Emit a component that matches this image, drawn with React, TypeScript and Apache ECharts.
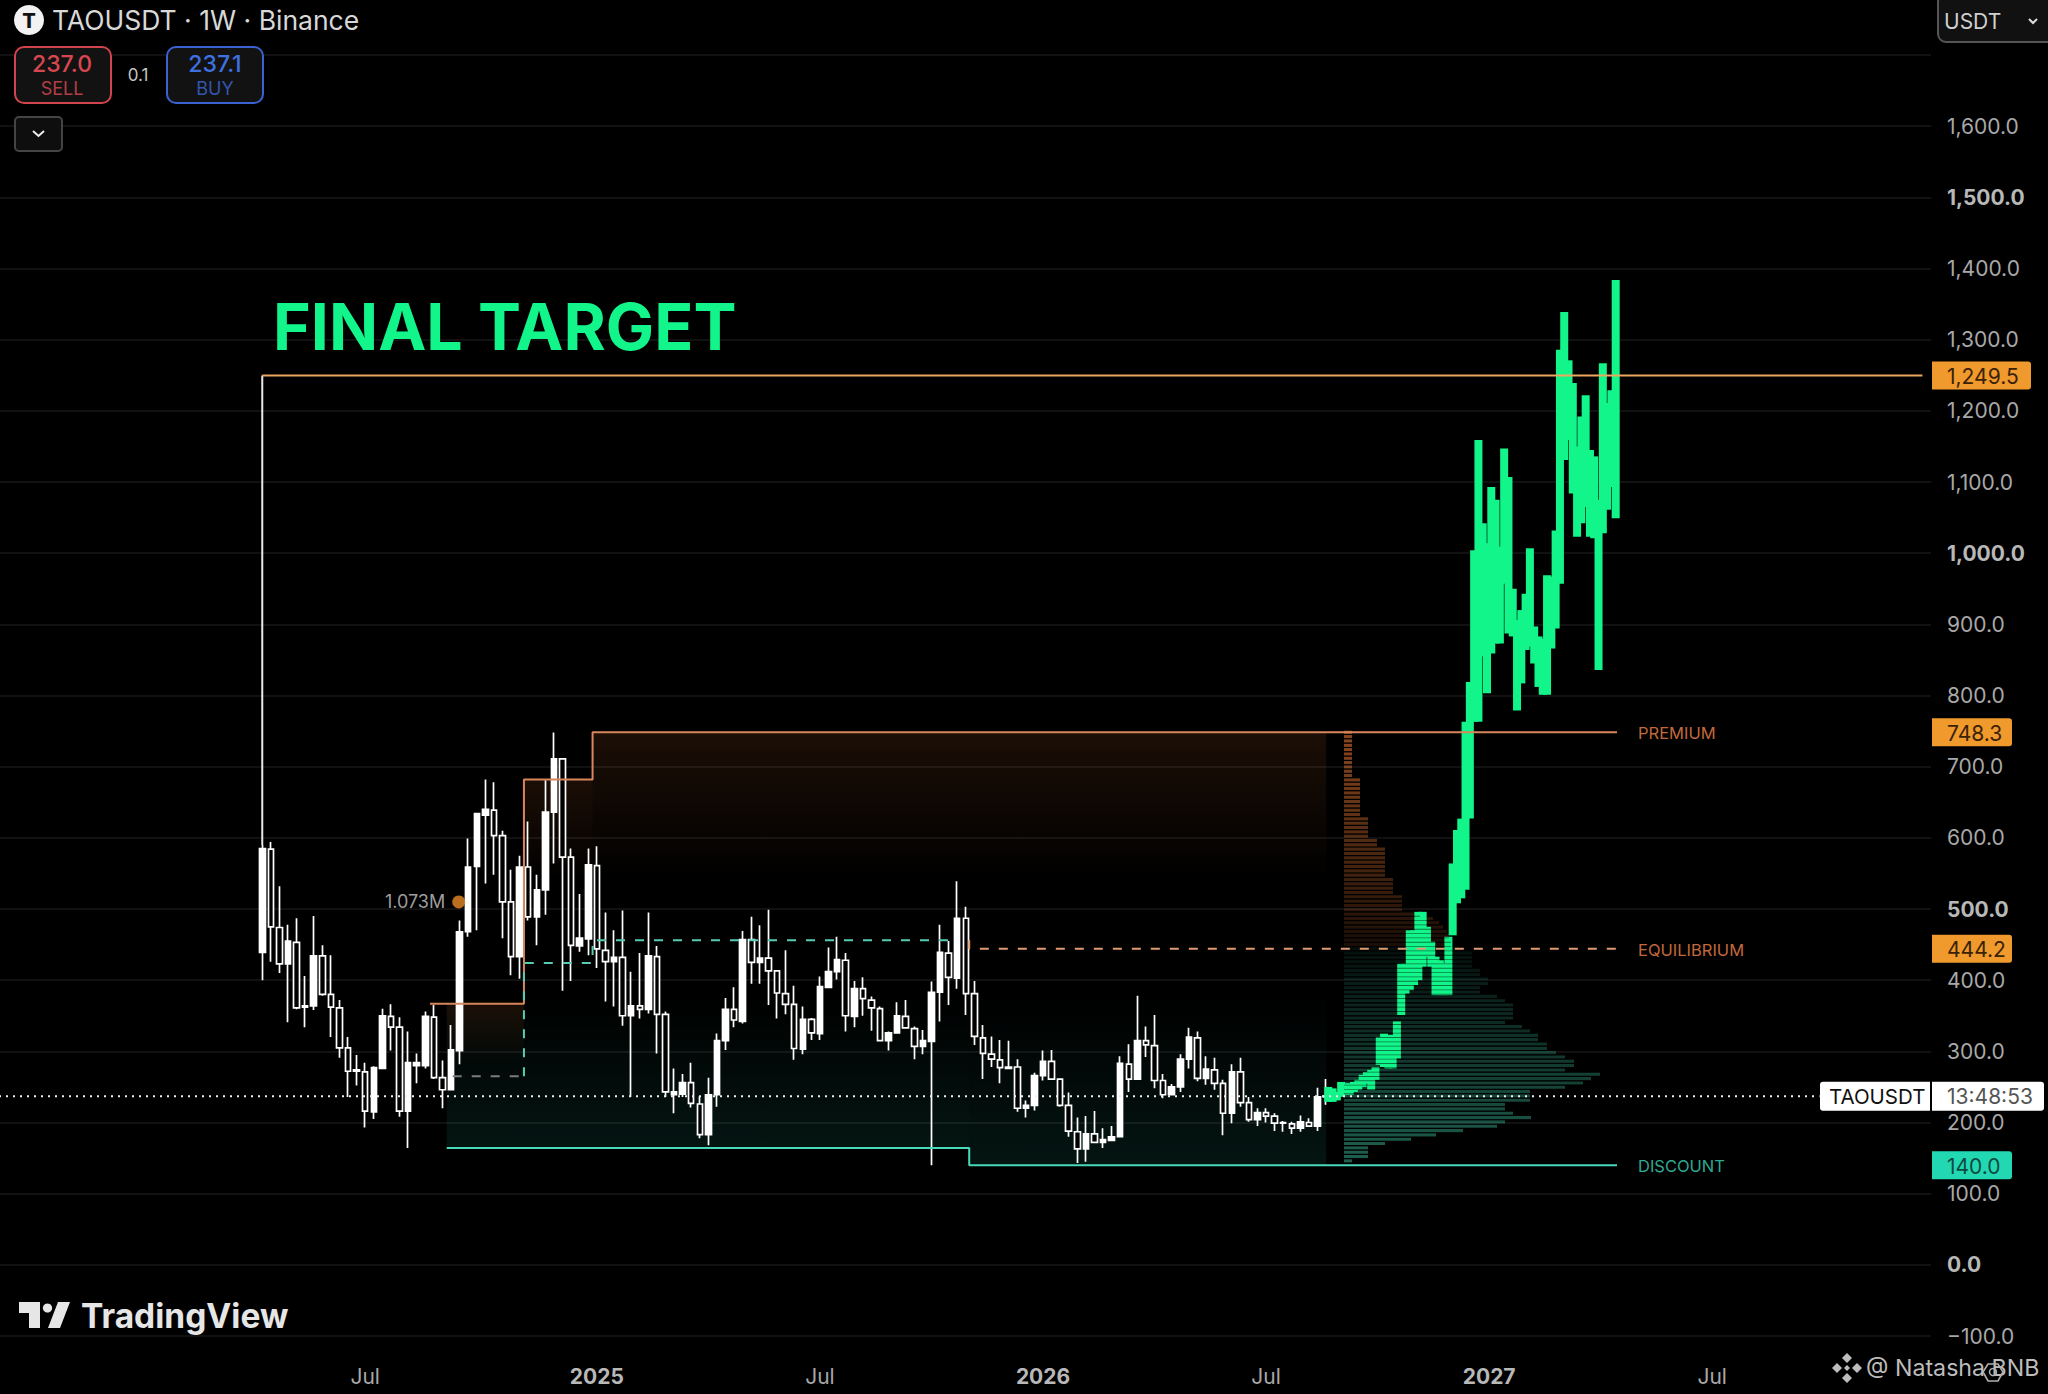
import React, { useEffect, useRef } from "react";
import * as echarts from "echarts";

const WEEK_COUNT = 226;
const FIRST_CANDLE_WEEK = 31;
const timeTicks: Record<number, string> = { 43: "Jul", 70: "2025", 96: "Jul", 122: "2026", 148: "Jul", 174: "2027", 200: "Jul" };
const boldYears = ["2025", "2026", "2027"];
const boldPrices = [0, 500, 1000, 1500];

// [open, close, low, high]
const candles: number[][] = [
  [439,585,400,590],[584,475,426,594],[474,423,410,532],[423,455,341,478],[453,361,359,487],
  [362,364,334,406],[364,434,358,490],[434,380,378,449],[380,362,320,435],[361,305,291,372],
  [305,272,236,320],[272,274,252,295],[271,216,193,284],[215,277,205,279],[276,350,276,360],
  [349,334,301,366],[334,216,208,348],[216,284,164,328],[280,284,255,297],[280,349,276,356],
  [348,263,261,365],[263,246,220,287],[246,302,246,337],[301,468,282,484],[468,559,461,599],
  [560,634,470,635],[632,640,536,682],[639,603,548,678],[603,510,459,610],[510,433,407,555],
  [433,559,402,575],[559,489,484,623],[489,527,449,548],[527,636,492,681],[636,711,564,748],
  [711,573,385,712],[573,449,399,585],[448,459,440,521],[458,562,435,585],[561,444,417,588],
  [442,426,370,495],[426,432,363,470],[432,350,336,498],[350,364,236,412],[364,359,346,438],
  [359,434,353,495],[433,352,297,448],[352,243,236,356],[239,243,213,276],[240,256,236,268],
  [256,227,221,284],[226,183,178,237],[183,239,168,263],[239,315,222,325],[315,359,302,375],
  [359,344,334,390],[342,457,339,469],[457,425,395,489],[425,431,395,477],[431,413,365,499],
  [413,382,346,413],[381,366,352,442],[366,304,288,392],[303,345,296,363],[345,326,316,347],
  [325,391,316,405],[390,412,390,446],[412,429,401,461],[428,350,328,438],[349,388,334,399],
  [388,374,350,404],[372,361,329,377],[360,315,314,363],[315,326,301,328],[326,350,325,369],
  [349,333,332,372],[332,307,289,335],[307,315,296,330],[314,383,140,398],[383,439,342,478],
  [438,404,365,455],[403,487,388,539],[487,381,351,503],[381,321,309,399],[319,297,261,337],
  [296,289,278,321],[288,277,255,316],[276,278,276,315],[278,220,215,289],[220,224,207,231],
  [224,266,217,270],[266,286,259,301],[286,261,261,302],[261,224,222,261],[224,188,180,242],
  [187,163,143,207],[163,184,145,209],[184,172,172,216],[172,176,164,192],[175,180,174,195],
  [180,283,180,293],[282,261,243,310],[261,315,261,378],[315,309,292,335],[308,259,248,351],
  [259,239,234,268],[239,250,239,254],[250,289,243,296],[289,320,276,333],[319,262,258,328],
  [262,275,253,293],[274,255,246,291],[255,213,182,260],[213,271,199,282],[271,228,222,291],
  [228,204,201,236],[204,214,195,220],[214,209,200,220],[209,199,188,213],[199,200,187,202],
  [198,192,184,201],[192,201,187,210],[200,195,194,206],[195,236,188,249],[236,237,225,261],
];

// projected path: one low/high pair per half week
const PROJECTION_START_WEEK = 155.25;
const projectionLow = [229,229,231,236,239,239,243,246,250,255,246,260,281,278,276,276,290,351,381,386,393,400,419,433,419,379,379,379,379,463,508,515,527,627,763,763,855,803,859,873,873,957,887,883,779,817,864,869,845,812,801,801,866,894,957,1131,1159,1084,1023,1042,1065,1023,1021,836,1028,1061,1093,1049];
const projectionHigh = [250,248,243,257,255,255,257,260,267,271,274,278,320,325,323,323,342,423,423,470,470,496,496,475,454,433,428,424,461,564,611,627,763,819,1004,1159,1042,1014,1093,1075,1009,1147,1107,950,906,920,943,1007,897,883,880,969,967,1032,1286,1339,1271,1239,1150,1192,1222,1145,1136,1075,1267,1211,1229,1384];

// volume profile rows, top to bottom
const PROFILE_TOP_PRICE = 748.3;
const PROFILE_ROW_PRICE = 6.083;
const PROFILE_EQUILIBRIUM_ROW = 50;
const profileVolume = [8,8,8,8,8,8,8,8,8,8,8,16,16,16,16,16,16,16,16,16,24,24,24,24,24,33,33,41,41,41,41,41,41,41,49,49,49,49,58,58,58,58,76,89,95,99,103,105,107,107,115,128,128,128,128,136,136,144,144,136,136,153,161,169,169,169,169,161,178,186,194,194,203,203,212,221,230,230,221,256,247,239,221,186,186,186,161,161,169,187,161,153,119,92,67,41,24,24,24,8];

const targetDrop = [[31, 590], [31, 1249.5]];
const targetLine = [[31, 1249.5], [224.5, 1249.5]];
const premiumLine = [[50.55, 367], [61.5, 367], [61.5, 682], [69.5, 682], [69.5, 748.3], [188.9, 748.3]];
const discountLine = [[52.5, 164], [113.4, 164], [113.4, 140], [188.9, 140]];
const grayDash = [[53.2, 265], [61.5, 265]];
const tealDash = [[61.5, 265], [61.5, 424], [69.5, 424], [69.5, 456], [111.6, 456]];
const equilibriumDash = [[113.4, 456], [113.4, 444.2], [188.9, 444.2]];
const currentLine = [[-0.5, 237], [212.5, 237]];
const volumeMarker = [[53.9, 510]];

// from week, to week, top price, bottom price
const premiumZones = [[52.5, 61.5, 367, 285], [61.5, 69.5, 682, 540], [69.5, 155, 748.3, 540]];
const discountZones = [[52.5, 113.4, 380, 164], [113.4, 155, 380, 140]];

const zoneLabels = [
  { text: "PREMIUM", price: 748.3, color: "#c2683c" },
  { text: "EQUILIBRIUM", price: 444.2, color: "#c2683c" },
  { text: "DISCOUNT", price: 140, color: "#2fa892" },
];
const priceTags = [
  { text: "1,249.5", price: 1249.5, width: 99, bg: "#f0992c", fg: "#3a2208" },
  { text: "748.3", price: 748.3, width: 80, bg: "#f0992c", fg: "#3a2208" },
  { text: "444.2", price: 444.2, width: 80, bg: "#f0992c", fg: "#3a2208" },
  { text: "140.0", price: 140, width: 80, bg: "#22d8b2", fg: "#0e4a40" },
];
const CURRENT_PRICE = 237;
const symbolTag = "TAOUSDT";
const countdownTag = "13:48:53";

const GREEN = "#12f58a";
const FONT = "Inter";
const GRID_LEFT = -8;
const GRID_WIDTH = 1939;
const PROFILE_LEFT_PX = 1344;

const rectBetween = (api: any, x0: number, x1: number, top: number, bottom: number) => {
  const a = api.coord([x0, top]);
  const b = api.coord([x1, bottom]);
  return { x: a[0], y: a[1], width: b[0] - a[0], height: b[1] - a[1] };
};

const zoneSeries = (name: string, zones: number[][], rgb: string, topAlpha: number, bottomAlpha: number) => ({
  type: "custom",
  name,
  xAxisIndex: 1,
  yAxisIndex: 0,
  z: 1,
  silent: true,
  data: zones,
  renderItem: (_: any, api: any) => ({
    type: "rect",
    shape: rectBetween(api, api.value(0), api.value(1), api.value(2), api.value(3)),
    style: {
      fill: new echarts.graphic.LinearGradient(0, 0, 0, 1, [
        { offset: 0, color: `rgba(${rgb},${topAlpha})` },
        { offset: 1, color: `rgba(${rgb},${bottomAlpha})` },
      ]),
    },
  }),
});

const lineSeries = (name: string, data: number[][], color: string, type: any, z = 6, width = 2) => ({
  type: "line",
  name,
  xAxisIndex: 1,
  yAxisIndex: 0,
  z,
  silent: true,
  symbol: "none",
  data,
  lineStyle: { color, width, type },
});

const overlayGraphics = () => {
  const txt = (text: string, x: number, y: number, font: string, fill: string, align = "left", extra: any = {}) => ({
    type: "text",
    z: 50,
    style: { text, x, y, font, fill, align, verticalAlign: "middle", ...extra },
  });
  const box = (x: number, y: number, width: number, height: number, r: any, fill: string, stroke?: string) => ({
    type: "rect",
    z: 49,
    shape: { x, y, width, height, r },
    style: { fill, stroke, lineWidth: stroke ? 2 : 0 },
  });
  const poly = (points: number[][], fill: string) => ({ type: "polygon", z: 50, shape: { points }, style: { fill } });
  const diamond = (cx: number, cy: number, r: number) =>
    poly([[cx, cy - r], [cx + r, cy], [cx, cy + r], [cx - r, cy]], "#bdbdbd");
  return [
    { type: "circle", z: 50, shape: { cx: 29, cy: 20, r: 15 }, style: { fill: "#f2f2f2" } },
    txt("T", 29, 21, `800 20px ${FONT}`, "#111", "center"),
    txt("TAOUSDT · 1W · Binance", 52, 20, `400 26.5px ${FONT}`, "#d8d8d8"),
    box(15, 47, 96, 56, 9, "#121212", "#d2444c"),
    txt("237.0", 62, 64, `500 23px ${FONT}`, "#d8474f", "center"),
    txt("SELL", 62, 88, `400 18px ${FONT}`, "#b23e45", "center"),
    txt("0.1", 138, 75, `400 17px ${FONT}`, "#c4c4c4", "center"),
    box(167, 47, 96, 56, 9, "#121212", "#3a62d0"),
    txt("237.1", 215, 64, `500 23px ${FONT}`, "#3f70e0", "center"),
    txt("BUY", 215, 88, `400 18px ${FONT}`, "#3256ad", "center"),
    box(15, 117, 47, 34, 4, "#0e0e0e", "#444"),
    { type: "polyline", z: 50, shape: { points: [[33, 131], [38.5, 136], [44, 131]] }, style: { stroke: "#eee", lineWidth: 2, fill: "none" } },
    box(1938, -6, 120, 48, 8, "#111", "#555"),
    txt("USDT", 1944, 21, `400 21px ${FONT}`, "#d0d0d0"),
    { type: "polyline", z: 50, shape: { points: [[2029, 19], [2033, 23], [2037, 19]] }, style: { stroke: "#ddd", lineWidth: 2, fill: "none" } },
    txt("FINAL TARGET", 273, 327, `700 64.5px ${FONT}`, GREEN),
    poly([[19, 1302], [40, 1302], [40, 1328], [29, 1328], [29, 1313], [19, 1313]], "#e6e6e6"),
    { type: "circle", z: 50, shape: { cx: 47.5, cy: 1308, r: 4.6 }, style: { fill: "#e6e6e6" } },
    poly([[58, 1302], [70, 1302], [60, 1328], [48, 1328]], "#e6e6e6"),
    txt("TradingView", 81, 1316, `700 33.5px ${FONT}`, "#e6e6e6"),
    diamond(1847, 1358, 5),
    diamond(1847, 1378, 5),
    diamond(1837, 1368, 5),
    diamond(1857, 1368, 5),
    diamond(1847, 1368, 3),
    txt("@ Natasha BNB", 1866, 1368, `400 23.2px ${FONT}`, "#bdbdbd"),
    {
      type: "polygon",
      z: 51,
      shape: { points: [[1983, 1372], [1988, 1364], [1998, 1364], [2003, 1372], [1998, 1381], [1988, 1381]] },
      style: { fill: "none", stroke: "#b0b0b0", lineWidth: 1.6 },
    },
    { type: "circle", z: 51, shape: { cx: 1993, cy: 1372, r: 3.5 }, style: { fill: "none", stroke: "#b0b0b0", lineWidth: 1.5 } },
  ];
};

export default function App() {
  const ref = useRef<HTMLDivElement>(null);
  useEffect(() => {
    document.body.style.margin = "0";
    document.body.style.background = "#000";
    const chart = echarts.init(ref.current!, undefined, { renderer: "svg" });
    const weeks = Array.from({ length: WEEK_COUNT }, (_, i) => String(i));
    const candleData = weeks.map((_, i) => {
      const c = candles[i - FIRST_CANDLE_WEEK];
      return c ? c : "-";
    });
    const projection = projectionLow.map((lo, j) => [PROJECTION_START_WEEK + j * 0.5, lo, projectionHigh[j]]);
    const profile = profileVolume.map((vol, j) => [vol, PROFILE_TOP_PRICE - j * PROFILE_ROW_PRICE, j]);

    chart.setOption({
      animation: false,
      backgroundColor: "#000",
      graphic: overlayGraphics(),
      grid: { left: GRID_LEFT, width: GRID_WIDTH, top: 55, height: 1281, containLabel: false, outerBoundsMode: "none" },
      xAxis: [
        {
          type: "category",
          data: weeks,
          axisLine: { show: false },
          axisTick: { show: false },
          splitLine: { show: false },
          axisLabel: {
            interval: (i: number) => timeTicks[i] !== undefined,
            margin: 30,
            formatter: (v: string) => {
              const t = timeTicks[Number(v)] ?? "";
              return boldYears.includes(t) ? `{y|${t}}` : `{m|${t}}`;
            },
            rich: {
              y: { fontFamily: FONT, fontSize: 21, fontWeight: 700, color: "#b8b8b8" },
              m: { fontFamily: FONT, fontSize: 21, fontWeight: 400, color: "#a8a8a8" },
            },
          },
        },
        { type: "value", show: false, min: -0.5, max: WEEK_COUNT - 0.5, splitLine: { show: false } },
        { type: "value", show: false, min: GRID_LEFT - PROFILE_LEFT_PX, max: GRID_LEFT + GRID_WIDTH - PROFILE_LEFT_PX, splitLine: { show: false } },
      ],
      yAxis: [
        {
          type: "value",
          position: "right",
          min: -100,
          max: 1700,
          interval: 100,
          axisLine: { show: false },
          axisTick: { show: false },
          splitLine: { show: true, lineStyle: { color: "#171717", width: 1.5 } },
          axisLabel: {
            margin: 16,
            formatter: (v: number) => {
              if (v === 1700) return "";
              const s = (v < 0 ? "−" : "") + Math.abs(v).toLocaleString("en-US", { minimumFractionDigits: 1, maximumFractionDigits: 1 });
              return boldPrices.includes(v) ? `{b|${s}}` : `{n|${s}}`;
            },
            rich: {
              b: { fontFamily: FONT, fontSize: 21, fontWeight: 700, color: "#b8b8b8" },
              n: { fontFamily: FONT, fontSize: 21, fontWeight: 400, color: "#a8a8a8" },
            },
          },
        },
      ],
      series: [
        zoneSeries("premium zone", premiumZones, "230,120,50", 0.12, 0),
        zoneSeries("discount zone", discountZones, "40,210,180", 0, 0.1),
        {
          type: "candlestick",
          name: "TAOUSDT",
          xAxisIndex: 0,
          yAxisIndex: 0,
          z: 3,
          barWidth: 6,
          data: candleData,
          itemStyle: { color: "#fff", color0: "#000", borderColor: "#fff", borderColor0: "#fff", borderWidth: 1.7 },
        },
        {
          type: "custom",
          name: "volume profile",
          xAxisIndex: 2,
          yAxisIndex: 0,
          z: 2,
          silent: true,
          data: profile,
          renderItem: (_: any, api: any) => {
            const j = api.value(2);
            const mid = api.value(1);
            const fill =
              j < PROFILE_EQUILIBRIUM_ROW
                ? `rgba(205,105,45,${0.68 - (0.56 * j) / PROFILE_EQUILIBRIUM_ROW})`
                : `rgba(60,190,155,${0.08 + (0.42 * (j - PROFILE_EQUILIBRIUM_ROW)) / 49})`;
            return {
              type: "rect",
              shape: rectBetween(api, 0, api.value(0), mid + 2.2, mid - 2.2),
              style: { fill },
            };
          },
        },
        {
          type: "custom",
          name: "projection",
          xAxisIndex: 1,
          yAxisIndex: 0,
          z: 4,
          silent: true,
          data: projection,
          renderItem: (_: any, api: any) => {
            const top = api.coord([api.value(0), api.value(2)]);
            const bottom = api.coord([api.value(0), api.value(1)]);
            return {
              type: "rect",
              shape: { x: top[0] - 4, y: top[1], width: 8, height: bottom[1] - top[1] },
              style: { fill: GREEN },
            };
          },
        },
        {
          type: "custom",
          name: "profile gaps",
          xAxisIndex: 2,
          yAxisIndex: 0,
          z: 5,
          silent: true,
          data: profile,
          renderItem: (_: any, api: any) => {
            const mid = api.value(1) - PROFILE_ROW_PRICE / 2;
            return {
              type: "rect",
              shape: rectBetween(api, 0, api.value(0), mid + 0.6, mid - 0.6),
              style: { fill: "rgba(0,0,0,0.5)" },
            };
          },
        },
        lineSeries("target drop", targetDrop, "#e8e8e8", "solid"),
        lineSeries("target", targetLine, "#eda860", "solid"),
        lineSeries("premium", premiumLine, "#d8875c", "solid"),
        lineSeries("discount", discountLine, "#48d8ba", "solid"),
        lineSeries("gray dash", grayDash, "#7c7c7c", [9, 10]),
        lineSeries("teal dash", tealDash, "#55cdb2", [9, 10]),
        lineSeries("equilibrium", equilibriumDash, "#e09a70", [9, 10]),
        lineSeries("current", currentLine, "#f0f0f0", [2, 5], 7),
        {
          type: "scatter",
          name: "volume marker",
          xAxisIndex: 1,
          yAxisIndex: 0,
          z: 6,
          silent: true,
          symbolSize: 13,
          data: volumeMarker,
          itemStyle: { color: "#e88a25" },
          label: {
            show: true,
            position: "left",
            distance: 7,
            formatter: "1.073M",
            fontFamily: FONT,
            fontSize: 18,
            color: "#c8c8c8",
          },
        },
        {
          type: "custom",
          name: "zone labels",
          xAxisIndex: 1,
          yAxisIndex: 0,
          z: 8,
          silent: true,
          data: zoneLabels.map((l) => [0, l.price]),
          renderItem: (params: any, api: any) => {
            const l = zoneLabels[params.dataIndex];
            const y = api.coord([0, l.price])[1];
            return {
              type: "text",
              style: { text: l.text, x: 1638, y: y + 1, font: `400 16.5px ${FONT}`, fill: l.color, verticalAlign: "middle" },
            };
          },
        },
        {
          type: "custom",
          name: "price tags",
          xAxisIndex: 1,
          yAxisIndex: 0,
          z: 9,
          silent: true,
          clip: false,
          data: priceTags.map((t) => [0, t.price]),
          renderItem: (params: any, api: any) => {
            const t = priceTags[params.dataIndex];
            const y = api.coord([0, t.price])[1];
            return {
              type: "group",
              children: [
                { type: "rect", shape: { x: 1932, y: y - 14, width: t.width, height: 28, r: [0, 3, 3, 0] }, style: { fill: t.bg } },
                { type: "text", style: { text: t.text, x: 1947, y: y + 1, font: `400 21px ${FONT}`, fill: t.fg, verticalAlign: "middle" } },
              ],
            };
          },
        },
        {
          type: "custom",
          name: "current tag",
          xAxisIndex: 1,
          yAxisIndex: 0,
          z: 9,
          silent: true,
          clip: false,
          data: [[0, CURRENT_PRICE]],
          renderItem: (_: any, api: any) => {
            const y = api.coord([0, api.value(1)])[1];
            return {
              type: "group",
              children: [
                { type: "rect", shape: { x: 1820, y: y - 14.5, width: 110, height: 29, r: [3, 0, 0, 3] }, style: { fill: "#fff" } },
                { type: "rect", shape: { x: 1932, y: y - 14.5, width: 112, height: 29, r: [0, 3, 3, 0] }, style: { fill: "#fff" } },
                { type: "text", style: { text: symbolTag, x: 1829, y, font: `400 20.5px ${FONT}`, fill: "#111", verticalAlign: "middle" } },
                { type: "text", style: { text: countdownTag, x: 1947, y, font: `400 21px ${FONT}`, fill: "#555", verticalAlign: "middle" } },
              ],
            };
          },
        },
      ],
    });
    return () => chart.dispose();
  }, []);
  return <div ref={ref} style={{ position: "absolute", left: 0, top: 0, width: 2048, height: 1394 }} />;
}
